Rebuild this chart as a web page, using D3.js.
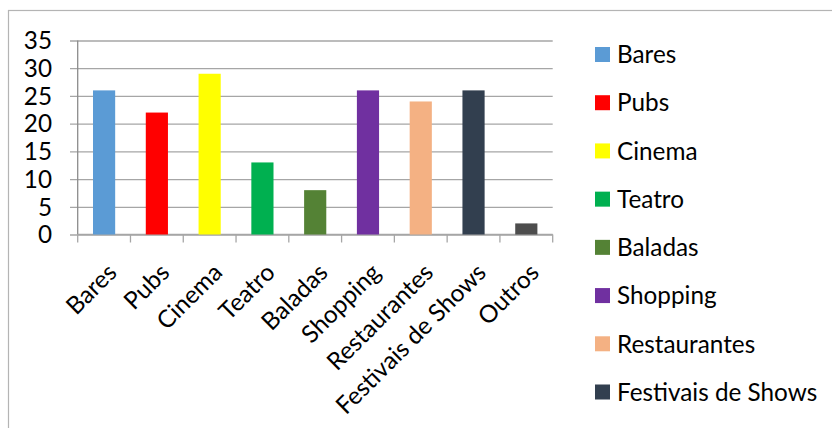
<!DOCTYPE html>
<html>
<head>
<meta charset="utf-8">
<script src="https://cdn.jsdelivr.net/npm/d3@7"></script>
<style>
  body { margin: 0; background: #fff; }
  text { font-family: Lato, "Open Sans", sans-serif; fill: #000; }
</style>
</head>
<body>
<div id="chart"></div>
<script>
// chart data
var categories = ["Bares", "Pubs", "Cinema", "Teatro", "Baladas", "Shopping", "Restaurantes", "Festivais de Shows", "Outros"];
var values = [26, 22, 29, 13, 8, 26, 24, 26, 2];
var colors = ["#5B9BD5", "#FF0000", "#FFFF00", "#00B050", "#548235", "#7030A0", "#F4B183", "#323F4F", "#4D4D4D"];
var yTicks = [0, 5, 10, 15, 20, 25, 30, 35];
// legend only shows the first eight entries in the picture
var legendItems = categories.slice(0, 8);

var w = 832;
var h = 428;
var plotLeft = 77.7;
var plotRight = 552.7;
var plotTop = 40.5;
var plotBottom = 234.5;
var fontSize = "24.3px";

var svg = d3.select("#chart").append("svg").attr("width", w).attr("height", h);

//outer frame of the chart area (goes off the right and bottom edges)
svg.append("rect")
  .attr("x", 8.5).attr("y", 10.5)
  .attr("width", w + 10).attr("height", h + 10)
  .attr("fill", "none").attr("stroke", "#b4b4b4").attr("stroke-width", 1.2);

var yScale = d3.scaleLinear().domain([0, 35]).range([plotBottom, plotTop]);

//band scale for category slots (tick spacing)
var xScale = d3.scaleBand().domain(categories).range([plotLeft, plotRight]).padding(0);

//band scale for the bars themselves
var barScale = d3.scaleBand().domain(categories).range([plotLeft, plotRight])
  .paddingInner(0.58).paddingOuter(0.29);

//gridlines
var gy = svg.append("g")
  .attr("transform", "translate(" + plotRight + ",0)")
  .call(d3.axisLeft(yScale).tickValues(yTicks).tickSize(plotRight - 70).tickFormat(""));
gy.select(".domain").remove();
gy.selectAll("line").attr("stroke", "#a6a6a6").attr("stroke-width", 1.3);

//y labels
svg.append("g").selectAll("text")
  .data(yTicks)
  .enter()
  .append("text")
  .attr("x", 52)
  .attr("y", function (d) { return yScale(d); })
  .attr("dy", "0.36em")
  .attr("text-anchor", "end")
  .style("font-size", fontSize)
  .text(function (d) { return d; });

//y axis line
svg.append("line")
  .attr("x1", plotLeft).attr("x2", plotLeft)
  .attr("y1", plotTop).attr("y2", plotBottom)
  .attr("stroke", "#8c8c8c").attr("stroke-width", 1.3);

//x axis line and tick marks
svg.append("line")
  .attr("x1", plotLeft).attr("x2", plotRight)
  .attr("y1", plotBottom).attr("y2", plotBottom)
  .attr("stroke", "#a6a6a6").attr("stroke-width", 1.3);

var tickPos = categories.map(function (d) { return xScale(d); }).concat([plotRight]);
svg.append("g").selectAll("line")
  .data(tickPos)
  .enter()
  .append("line")
  .attr("x1", function (d) { return d; })
  .attr("x2", function (d) { return d; })
  .attr("y1", plotBottom).attr("y2", plotBottom + 8)
  .attr("stroke", "#a6a6a6").attr("stroke-width", 1.3);

//bars
svg.append("g").selectAll("rect")
  .data(values)
  .enter()
  .append("rect")
  .attr("x", function (d, i) { return barScale(categories[i]); })
  .attr("width", barScale.bandwidth())
  .attr("y", function (d) { return yScale(d); })
  .attr("height", function (d) { return plotBottom - yScale(d); })
  .attr("fill", function (d, i) { return colors[i]; });

//rotated category labels
svg.append("g").selectAll("text")
  .data(categories)
  .enter()
  .append("text")
  .attr("transform", function (d) {
    var cx = xScale(d) + xScale.bandwidth() / 2;
    return "translate(" + (cx + 2) + "," + 262 + ") rotate(-45)";
  })
  .attr("text-anchor", "end")
  .attr("dy", "0.7em")
  .style("font-size", fontSize)
  .text(function (d) { return d; });

//legend
var legend = svg.append("g").attr("transform", "translate(595,0)");
var legendY = d3.scalePoint().domain(legendItems).range([54.5, 392]);

legend.selectAll("rect")
  .data(legendItems)
  .enter()
  .append("rect")
  .attr("x", 0)
  .attr("y", function (d) { return legendY(d) - 7.5; })
  .attr("width", 15).attr("height", 15)
  .attr("fill", function (d, i) { return colors[i]; });

legend.selectAll("text")
  .data(legendItems)
  .enter()
  .append("text")
  .attr("x", 22)
  .attr("y", function (d) { return legendY(d); })
  .attr("dy", "0.36em")
  .style("font-size", fontSize)
  .text(function (d) { return d; });
</script>
</body>
</html>
